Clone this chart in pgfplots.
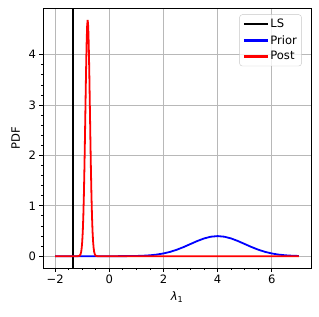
\documentclass[border=0pt]{standalone}
\usepackage{pgfplots}
\pgfplotsset{compat=1.18}
\usepackage{fontspec}
\setmainfont{DejaVu Sans}
\begin{document}
\begin{tikzpicture}[x=1bp,y=1bp]
\begin{axis}[
  scale only axis,
  width=268bp, height=260bp,
  xmin=-2.45, xmax=7.45,
  ymin=-0.2347, ymax=4.928,
  xtick={-2,0,2,4,6}, xticklabels={−2,0,2,4,6},
  ytick={0,1,2,3,4}, yticklabels={0,1,2,3,4},
  minor x tick num=3, minor y tick num=4,
  tick align=outside, tick pos=left,
  major tick length=3.5bp, minor tick length=2bp,
  every tick/.style={black, line width=0.8bp},
  axis line style={black, line width=0.8bp},
  grid=major,
  major grid style={color=black!28, line width=0.8bp},
  tick label style={font=\fontsize{11.6}{13}\selectfont},
  label style={font=\fontsize{11.6}{13}\selectfont},
  xlabel={\textit{λ}\textsubscript{1}},
  ylabel={PDF},
  xlabel style={yshift=-1bp},
  ylabel style={yshift=2bp},
  legend style={at={(0.965,0.975)}, anchor=north east, draw=black!22, rounded corners=2.5bp, fill=white, fill opacity=0.8, draw opacity=1, text opacity=1, font=\fontsize{11.6}{13}\selectfont, row sep=3bp, inner sep=3bp, nodes={inner sep=1.5bp}, /tikz/every even column/.append style={column sep=8bp}},
  legend cell align=left,
  legend image code/.code={\draw[#1, line width=2.2bp] (0bp,0bp) -- (24bp,0bp);},
]
\addplot[black, line width=1.8bp] coordinates {(-1.33,-0.2347) (-1.33,4.928)};
\addlegendentry{LS}
\addplot[blue, line width=1.8bp] coordinates {
(-2,0) (0,0.0001) (0.5,0.0009) (0.75,0.0020) (1,0.0044) (1.25,0.0091) (1.5,0.0175) (1.75,0.0317) (2,0.0540) (2.25,0.0863) (2.5,0.1295) (2.75,0.1826) (3,0.2420) (3.25,0.3011) (3.5,0.3521) (3.75,0.3867) (4,0.3989) (4.25,0.3867) (4.5,0.3521) (4.75,0.3011) (5,0.2420) (5.25,0.1826) (5.5,0.1295) (5.75,0.0863) (6,0.0540) (6.25,0.0317) (6.5,0.0175) (6.75,0.0091) (7,0.0044)};
\addlegendentry{Prior}
\addplot[red, line width=1.8bp] coordinates {
(-2,0) (-1.16,0) (-1.10,0.009) (-1.08,0.021) (-1.06,0.044) (-1.04,0.087) (-1.02,0.165) (-1.00,0.295) (-0.98,0.498) (-0.96,0.798) (-0.94,1.209) (-0.92,1.733) (-0.90,2.349) (-0.88,3.014) (-0.86,3.658) (-0.84,4.201) (-0.82,4.565) (-0.80,4.693) (-0.78,4.565) (-0.76,4.201) (-0.74,3.658) (-0.72,3.014) (-0.70,2.349) (-0.68,1.733) (-0.66,1.209) (-0.64,0.798) (-0.62,0.498) (-0.60,0.295) (-0.58,0.165) (-0.56,0.087) (-0.54,0.044) (-0.52,0.021) (-0.50,0.009) (-0.44,0) (7,0)};
\addlegendentry{Post}
\end{axis}
\pgfresetboundingbox
\path (-43bp,-49bp) rectangle (276bp,268bp);
\end{tikzpicture}
\end{document}
